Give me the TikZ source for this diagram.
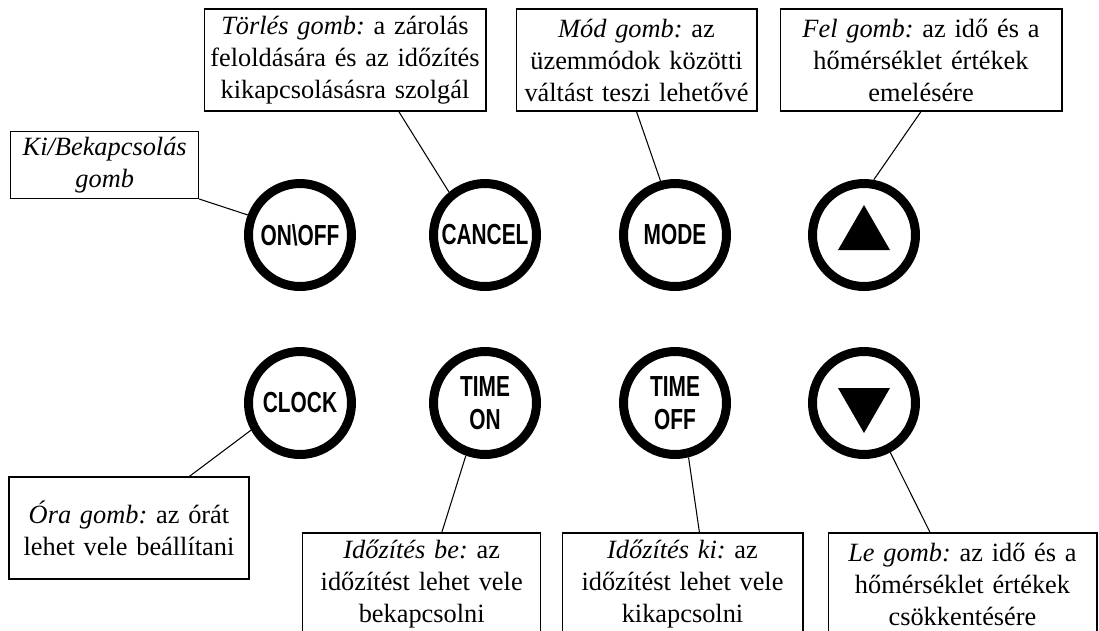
\documentclass[tikz,border=0pt]{standalone}
\usepackage{fontspec}
\setmainfont{Liberation Serif}
\newfontfamily\knobfamily[FakeStretch=0.72]{Liberation Sans}
\usepackage{tikz}
\usetikzlibrary{calc,shapes.geometric}

\tikzset{
  label box/.style={draw, line width=0.6pt, align=center, inner sep=0pt,
    font=\frenchspacing\fontsize{15}{18.2}\selectfont},
  knob/.style={circle, draw, line width=0.18cm, minimum size=2.06cm, inner sep=0pt,
    align=center, font=\knobfamily\bfseries\fontsize{16.5}{18.7}\selectfont},
  arrow sign/.style={regular polygon, regular polygon sides=3, fill, inner sep=0pt,
    minimum size=1.2cm},
  lead/.style={line width=0.6pt},
}

\begin{document}
\begin{tikzpicture}[x=0.02cm,y=-0.02cm]
\useasboundingbox (0,0) rectangle (1099,630);
% buttons, upper row
\node[knob] (onoff) at (300,235) {ON\textbackslash OFF};
\node[knob] (cancel) at (485,235) {CANCEL};
\node[knob] (mode) at (675,235) {MODE};
\node[knob] (up) at (864,235) {};
\node[arrow sign] (upsign) at (up) {};
% buttons, lower row
\node[knob] (clock) at (300,403) {CLOCK};
\node[knob] (timeon) at (485,403) {TIME\\ON};
\node[knob] (timeoff) at (675,403) {TIME\\OFF};
\node[knob] (down) at (864,403) {};
\node[arrow sign, shape border rotate=180] (downsign) at (down) {};

% explanations
\node[label box, text width=3.76cm, minimum height=1.34cm] (kibe) at (104.7,165)
  {\textit{Ki/Bekapcsolás}\\ \textit{gomb}};
\node[label box, text width=5.64cm, minimum height=2.04cm] (torles) at (345,60)
  {\textit{Törlés gomb:} a zárolás\\ feloldására és az időzítés\\ kikapcsolásásra szolgál};
\node[label box, text width=4.82cm, minimum height=2.04cm] (mod) at (636.5,60)
  {\textit{Mód gomb:} az\\ üzemmódok közötti\\ váltást teszi lehetővé};
\node[label box, text width=5.64cm, minimum height=2.04cm] (fel) at (921,60)
  {\textit{Fel gomb:} az idő és a\\ hőmérséklet értékek\\ emelésére};
\node[label box, text width=4.8cm, minimum height=2.04cm] (ora) at (129,528)
  {\textit{Óra gomb:} az órát\\ lehet vele beállítani};
\node[label box, text width=4.76cm, minimum height=2.04cm] (idobe) at (421.7,584)
  {\textit{Időzítés be:} az\\ időzítést lehet vele\\ bekapcsolni};
\node[label box, text width=4.82cm, minimum height=2.04cm] (idoki) at (682.5,584)
  {\textit{Időzítés ki:} az\\ időzítést lehet vele\\ kikapcsolni};
\node[label box, text width=5.38cm, minimum height=2.04cm] (le) at (962.5,584)
  {\textit{Le gomb:} az idő és a\\ hőmérséklet értékek\\ csökkentésére};

% leader lines
\draw[lead] (kibe.south east) -- (onoff.159);
\draw[lead] ($(torles.south west)!0.69!(torles.south east)$) -- (cancel.130);
\draw[lead] (mod.south) -- (mode.105);
\draw[lead] (fel.south) -- (up.80);
\draw[lead] ($(ora.north west)!0.75!(ora.north east)$) -- (clock.209);
\draw[lead] ($(idobe.north west)!0.584!(idobe.north east)$) -- (timeon.250);
\draw[lead] ($(idoki.north west)!0.57!(idoki.north east)$) -- (timeoff.284);
\draw[lead] ($(le.north west)!0.38!(le.north east)$) -- (down.298);
\end{tikzpicture}
\end{document}
